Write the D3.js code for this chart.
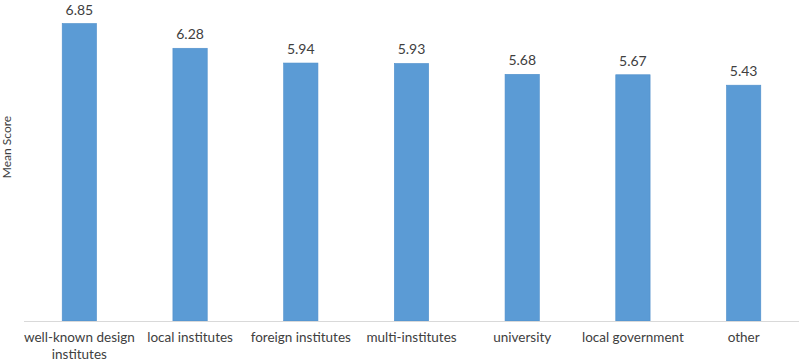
<!DOCTYPE html>
<html>
<head>
<meta charset="utf-8">
<script src="https://cdn.jsdelivr.net/npm/d3@7"></script>
<style>
  body { margin: 0; background: #fff; }
  text { font-family: Lato, "Open Sans", sans-serif; }
</style>
</head>
<body>
<div id="chart"></div>
<script>
const categories = ['well-known design institutes', 'local institutes', 'foreign institutes',
  'multi-institutes', 'university', 'local government', 'other'];
const meanScores = [6.85, 6.28, 5.94, 5.93, 5.68, 5.67, 5.43];
const yLabel = 'Mean Score';

const width = 803, height = 363;
const margin = {top: 17, right: 4, bottom: 42, left: 24};

const svg = d3.select('#chart').append('svg')
  .attr('width', width)
  .attr('height', height);

const x = d3.scaleBand()
  .domain(categories)
  .range([margin.left, width - margin.right])
  .paddingInner(0.69)
  .paddingOuter(0.345);

const y = d3.scaleLinear()
  .domain([0, 7])
  .range([height - margin.bottom, margin.top]);

const data = categories.map((c, i) => ({cat: c, value: meanScores[i]}));

// bars
svg.append('g').selectAll('rect')
  .data(data)
  .join('rect')
  .attr('x', d => x(d.cat))
  .attr('y', d => y(d.value))
  .attr('width', x.bandwidth())
  .attr('height', d => y(0) - y(d.value))
  .attr('fill', '#5B9BD5')
  .attr('stroke', '#4F8FCB')
  .attr('stroke-width', 0.6);

// baseline
svg.append('line')
  .attr('x1', margin.left)
  .attr('x2', width - margin.right)
  .attr('y1', y(0) + 0.5)
  .attr('y2', y(0) + 0.5)
  .attr('stroke', '#D9D9D9')
  .attr('stroke-width', 1.2);

// value labels
svg.append('g').selectAll('text')
  .data(data)
  .join('text')
  .attr('x', d => x(d.cat) + x.bandwidth() / 2)
  .attr('y', d => y(d.value) - 9)
  .attr('text-anchor', 'middle')
  .attr('font-size', 14)
  .attr('fill', '#404040')
  .text(d => d.value.toFixed(2));

// category labels, wrapped when wider than the max width
const maxLabel = 125;
const catG = svg.append('g').selectAll('text')
  .data(categories)
  .join('text')
  .attr('x', d => x(d) + x.bandwidth() / 2)
  .attr('y', y(0) + 21)
  .attr('text-anchor', 'middle')
  .attr('font-size', 13.5)
  .attr('fill', '#404040');

catG.each(function(d) {
  const t = d3.select(this);
  const words = d.split(' ');
  let line = [];
  let tspan = t.append('tspan').attr('x', t.attr('x')).attr('dy', 0);
  words.forEach(w => {
    line.push(w);
    tspan.text(line.join(' '));
    if (tspan.node().getComputedTextLength() > maxLabel && line.length > 1) {
      line.pop();
      tspan.text(line.join(' '));
      line = [w];
      tspan = t.append('tspan').attr('x', t.attr('x')).attr('dy', 17).text(w);
    }
  });
});

// y axis title
svg.append('text')
  .attr('transform', `translate(11, ${(margin.top + y(0)) / 2 - 22}) rotate(-90)`)
  .attr('text-anchor', 'middle')
  .attr('font-size', 12)
  .attr('fill', '#404040')
  .text(yLabel);
</script>
</body>
</html>
